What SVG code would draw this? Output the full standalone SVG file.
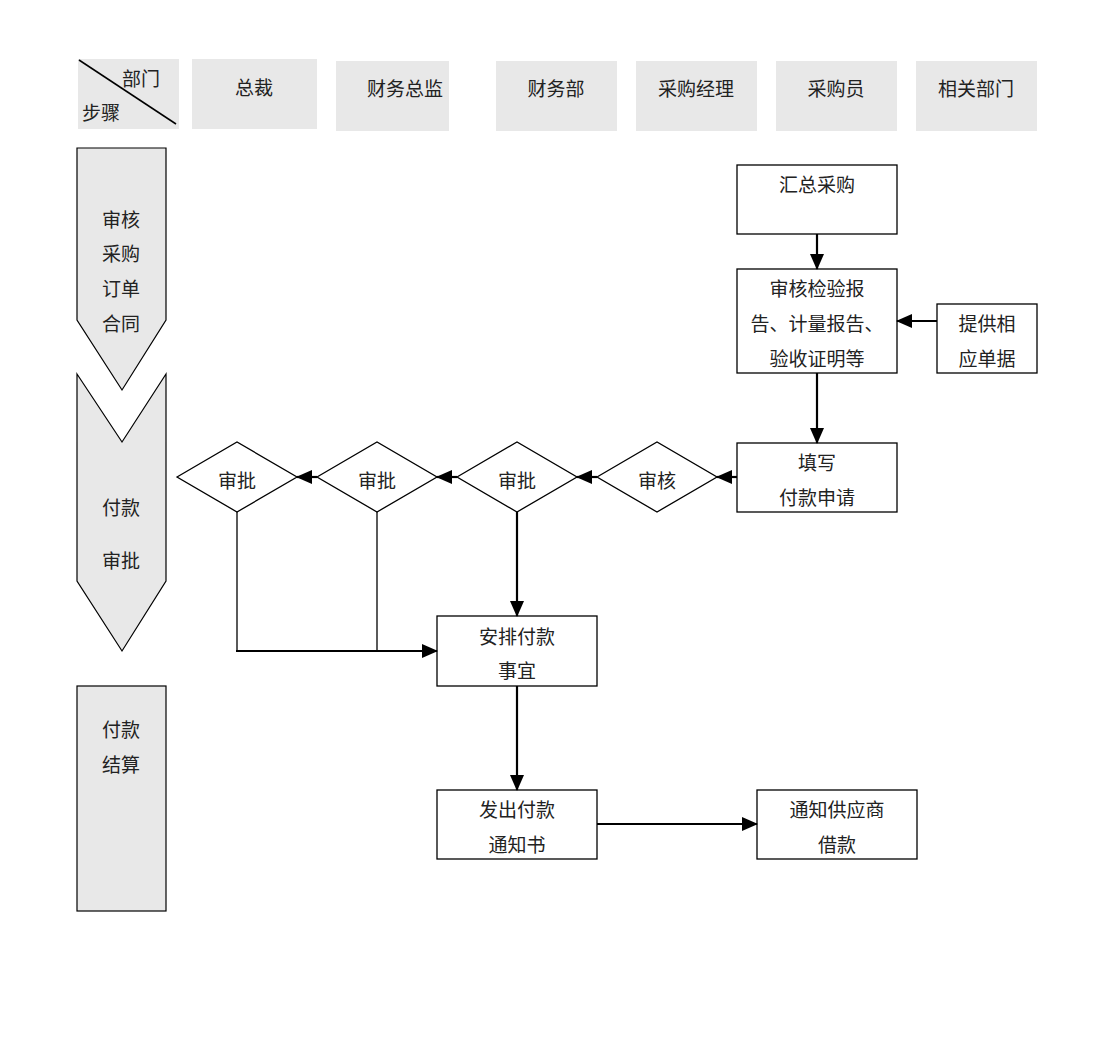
<svg xmlns="http://www.w3.org/2000/svg" width="1112" height="1048" viewBox="0 0 1112 1048">
<defs>
<marker id="ah" markerWidth="8" markerHeight="8" refX="7" refY="4" orient="auto" markerUnits="userSpaceOnUse" viewBox="0 0 8 8">
<path d="M0,0 L8,4 L0,8 Z" fill="#000"/>
</marker>
<marker id="ahb" markerWidth="16" markerHeight="14" refX="15" refY="7" orient="auto" markerUnits="userSpaceOnUse" viewBox="0 0 16 14">
<path d="M0,0 L16,7 L0,14 Z" fill="#000"/>
</marker>
<style>
.hd{fill:#e8e8e8;stroke:none}
.lane{fill:#e8e8e8;stroke:#000;stroke-width:1.2}
.box{fill:#fff;stroke:#000;stroke-width:1.3}
.t{font-family:"Liberation Serif","Noto Sans CJK SC",serif;font-size:19px;fill:#222;text-anchor:middle;dominant-baseline:central}
.c{fill:none;stroke:#000;stroke-width:2.2}
.thin{fill:none;stroke:#000;stroke-width:1.3}
</style>
</defs>
<rect width="1112" height="1048" fill="#fff"/>
<g id="header">
<g id="h-corner"><rect class="hd" x="78" y="59" width="101" height="70"/><line x1="79" y1="60" x2="176" y2="124" stroke="#000" stroke-width="1.5"/><text class="t" x="141" y="79">部门</text><text class="t" x="101" y="113">步骤</text></g>
<g id="h-zongcai"><rect class="hd" x="192" y="59" width="125" height="70"/><text class="t" x="254" y="88">总裁</text></g>
<g id="h-cwzj"><rect class="hd" x="336" y="61" width="113" height="70"/><text class="t" x="405" y="89">财务总监</text></g>
<g id="h-cwb"><rect class="hd" x="496" y="61" width="121" height="70"/><text class="t" x="556" y="89">财务部</text></g>
<g id="h-cgjl"><rect class="hd" x="636" y="61" width="121" height="70"/><text class="t" x="696" y="89">采购经理</text></g>
<g id="h-cgy"><rect class="hd" x="776" y="61" width="121" height="70"/><text class="t" x="836" y="89">采购员</text></g>
<g id="h-xgbm"><rect class="hd" x="916" y="61" width="121" height="70"/><text class="t" x="976" y="89">相关部门</text></g>
</g>
<g id="stage1"><path class="lane" d="M77,148 L166,148 L166,320 L122,390 L77,320 Z"/><text class="t" x="121" y="220">审核</text><text class="t" x="121" y="254">采购</text><text class="t" x="121" y="289">订单</text><text class="t" x="121" y="324">合同</text></g>
<g id="stage2"><path class="lane" d="M77,374 L122,442 L166,374 L166,581 L122,651 L77,581 Z"/><text class="t" x="121" y="508">付款</text><text class="t" x="121" y="561">审批</text></g>
<g id="stage3"><rect class="lane" x="77" y="686" width="89" height="225"/><text class="t" x="121" y="730">付款</text><text class="t" x="121" y="765">结算</text></g>
<g id="n-huizong"><rect class="box" x="737" y="165" width="160" height="69"/><text class="t" x="817" y="185">汇总采购</text></g>
<g id="n-shenhe-report"><rect class="box" x="737" y="269" width="160" height="104"/><text class="t" x="817" y="289">审核检验报</text><text class="t" x="817" y="324">告、计量报告、</text><text class="t" x="817" y="359">验收证明等</text></g>
<g id="n-tigong"><rect class="box" x="937" y="304" width="100" height="69"/><text class="t" x="987" y="324">提供相</text><text class="t" x="987" y="359">应单据</text></g>
<g id="n-tianxie"><rect class="box" x="737" y="443" width="160" height="69"/><text class="t" x="817" y="463">填写</text><text class="t" x="817" y="498">付款申请</text></g>
<g id="d-shenhe"><path class="box" d="M597,477 L657,442 L717,477 L657,512 Z"/><text class="t" x="657" y="481">审核</text></g>
<g id="d-shenpi1"><path class="box" d="M457,477 L517,442 L577,477 L517,512 Z"/><text class="t" x="517" y="481">审批</text></g>
<g id="d-shenpi2"><path class="box" d="M317,477 L377,442 L437,477 L377,512 Z"/><text class="t" x="377" y="481">审批</text></g>
<g id="d-shenpi3"><path class="box" d="M177,477 L237,442 L297,477 L237,512 Z"/><text class="t" x="237" y="481">审批</text></g>
<g id="n-anpai"><rect class="box" x="437" y="616" width="160" height="70"/><text class="t" x="517" y="637">安排付款</text><text class="t" x="517" y="671">事宜</text></g>
<g id="n-fachu"><rect class="box" x="437" y="790" width="160" height="69"/><text class="t" x="517" y="810">发出付款</text><text class="t" x="517" y="845">通知书</text></g>
<g id="n-tongzhi"><rect class="box" x="757" y="790" width="160" height="69"/><text class="t" x="837" y="810">通知供应商</text><text class="t" x="837" y="845">借款</text></g>
<g id="connectors">
<line class="c" x1="817" y1="234" x2="817" y2="269" marker-end="url(#ahb)"/>
<line class="c" x1="937" y1="321" x2="897" y2="321" marker-end="url(#ahb)"/>
<line class="c" x1="817" y1="373" x2="817" y2="443" marker-end="url(#ahb)"/>
<line class="c" x1="737" y1="477" x2="717" y2="477" marker-end="url(#ahb)"/>
<line class="c" x1="597" y1="477" x2="577" y2="477" marker-end="url(#ahb)"/>
<line class="c" x1="457" y1="477" x2="437" y2="477" marker-end="url(#ahb)"/>
<line class="c" x1="317" y1="477" x2="297" y2="477" marker-end="url(#ahb)"/>
<line class="c" x1="517" y1="512" x2="517" y2="616" marker-end="url(#ahb)"/>
<polyline class="thin" points="237,512 237,651"/>
<line class="c" x1="236" y1="651" x2="437" y2="651" marker-end="url(#ahb)"/>
<line class="thin" x1="377" y1="512" x2="377" y2="651"/>
<line class="c" x1="517" y1="686" x2="517" y2="790" marker-end="url(#ahb)"/>
<line class="c" x1="597" y1="824" x2="757" y2="824" marker-end="url(#ahb)"/>
</g>
</svg>
